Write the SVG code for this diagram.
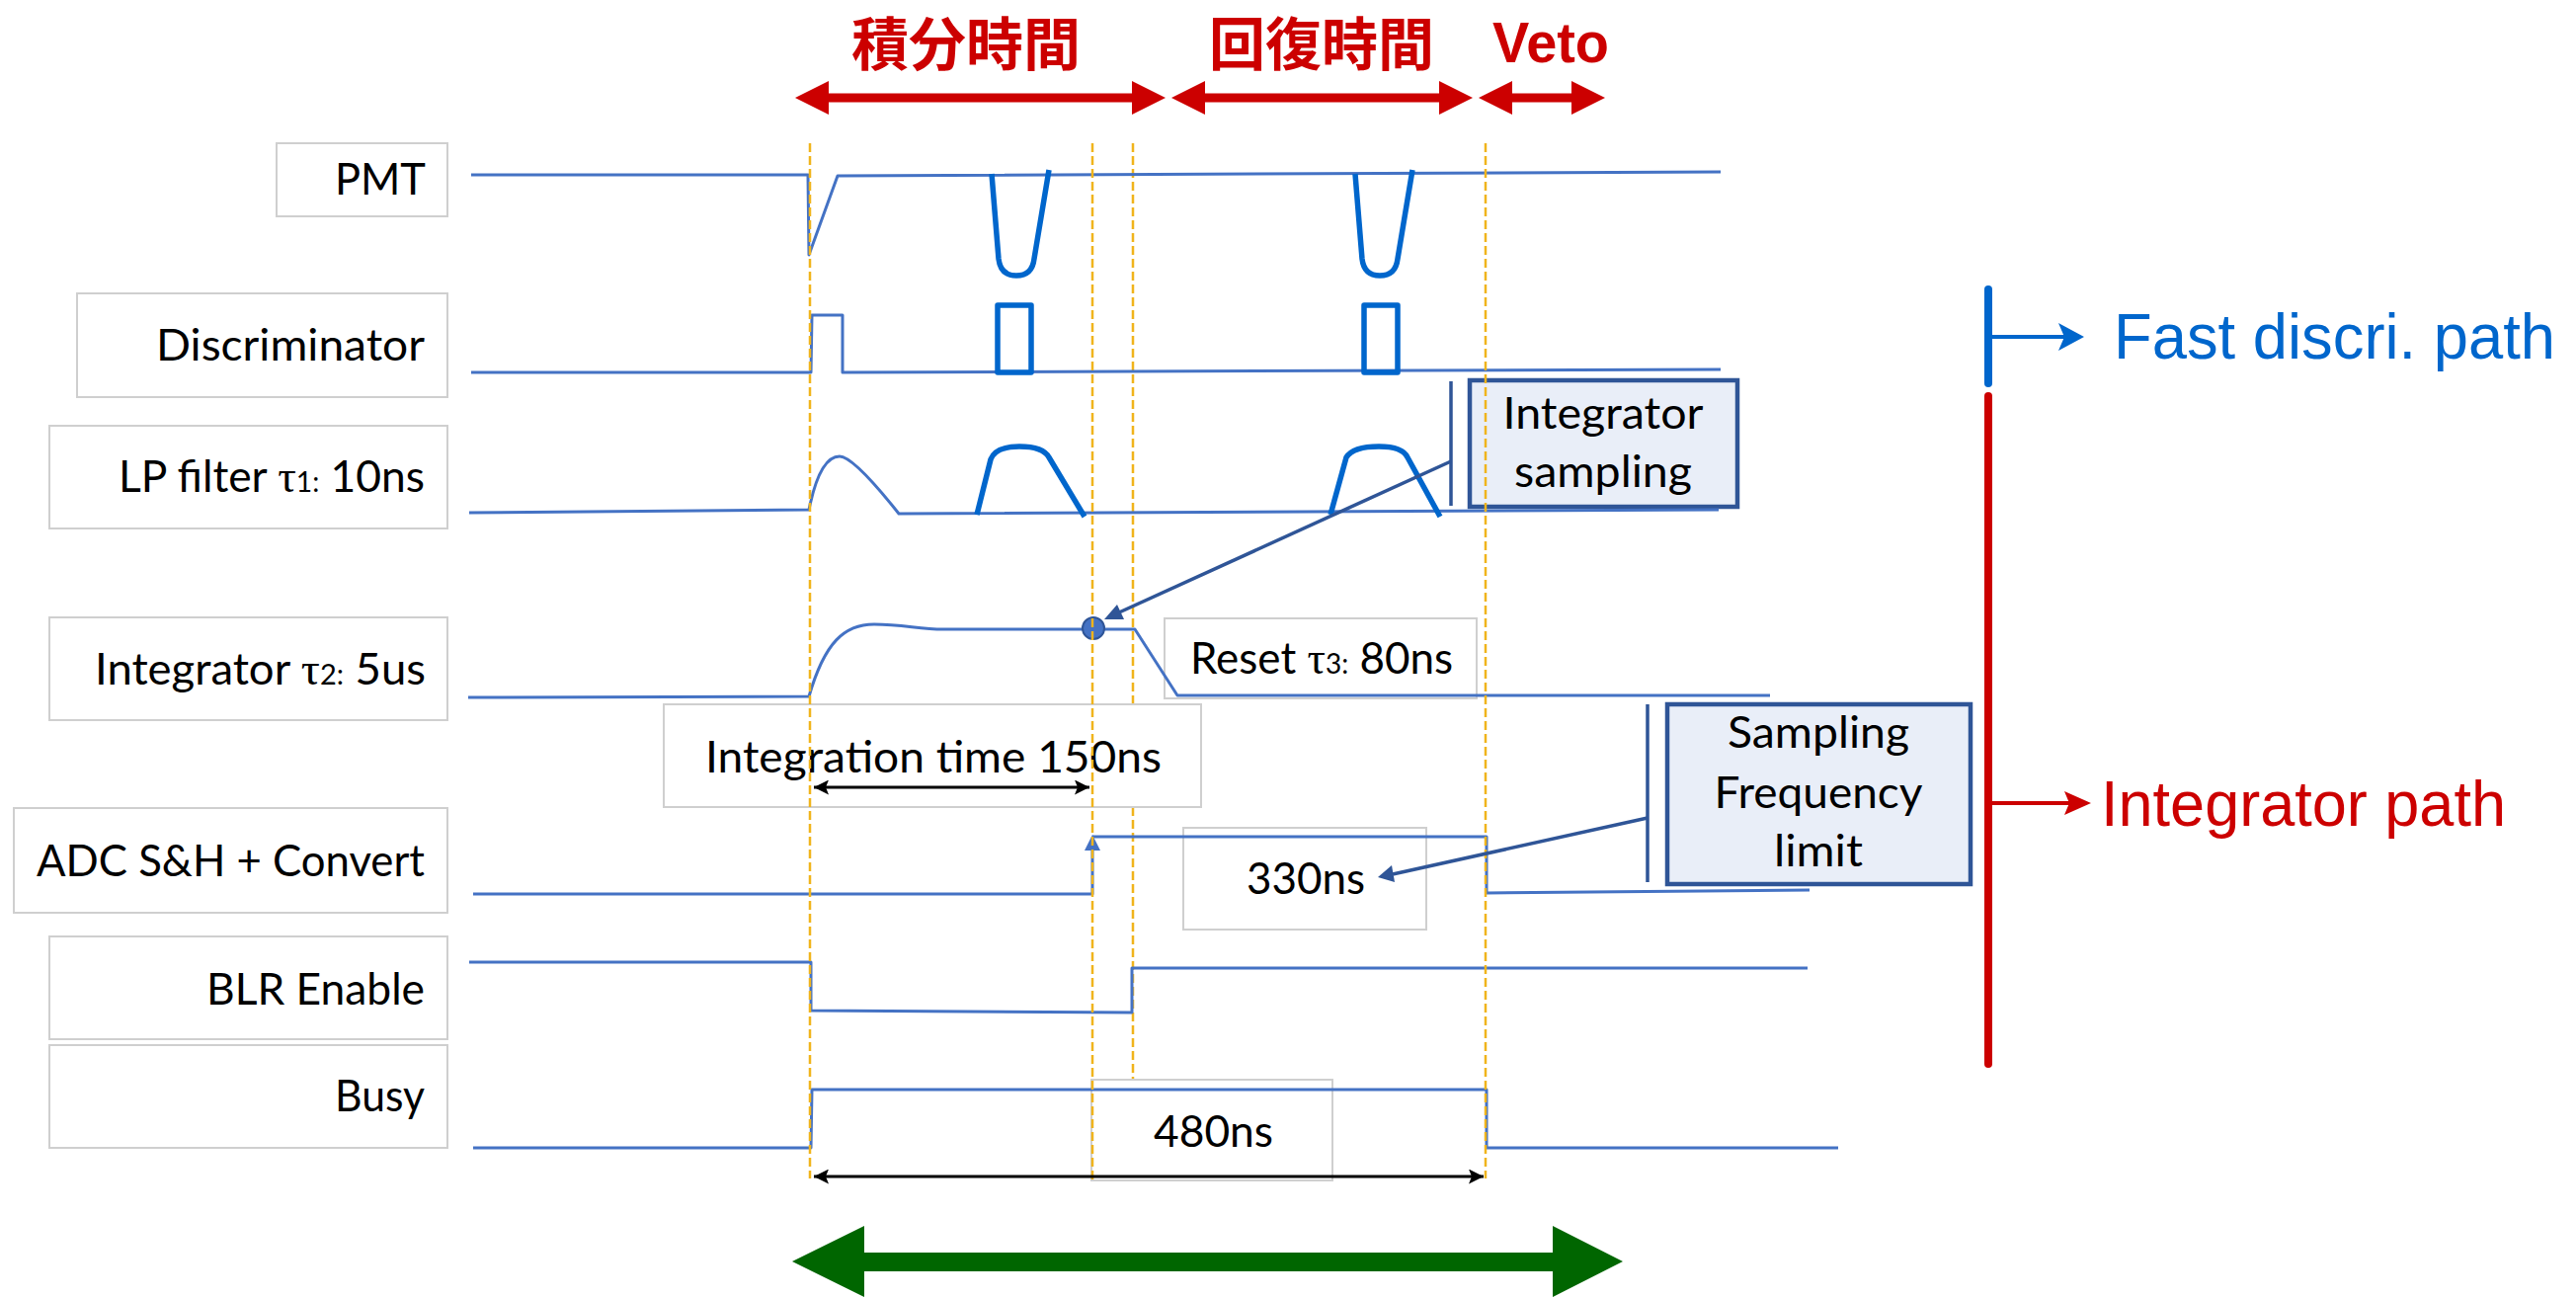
<svg xmlns="http://www.w3.org/2000/svg" width="2608" height="1314" viewBox="0 0 2608 1314">
<style>
.lbl{fill:#fff;stroke:#cfcfcf;stroke-width:2}
.note{fill:#E9EEF8;stroke:#2F5597;stroke-width:4.5}
.t{font-family:Lato,"Open Sans","DejaVu Sans",sans-serif;font-size:44px;fill:#000}
.tau{font-family:"Liberation Serif","DejaVu Serif",serif;font-size:46px}
.sub{font-size:28px}
.sig{fill:none;stroke:#4472C4;stroke-width:3;stroke-linejoin:round}
.pulse{fill:none;stroke:#0066CC;stroke-width:5.5;stroke-linejoin:round}
.dash{stroke:#F0B41C;stroke-width:2.5;stroke-dasharray:9 4;fill:none}
.lead{stroke:#2F5597;stroke-width:3.5;fill:none}
.cjk{font-family:"Noto Sans CJK JP","Noto Sans CJK SC",sans-serif;font-weight:bold;font-size:58px;fill:#CC0000}
.arial{font-family:"Liberation Sans",Arial,sans-serif;font-size:64px}
.dim{stroke:#000;stroke-width:3;fill:none}
</style>
<defs>
<marker id="ah" viewBox="0 0 10 10" refX="10" refY="5" markerWidth="5" markerHeight="5" orient="auto-start-reverse" markerUnits="strokeWidth">
<path d="M0,0 L10,5 L0,10 L2,5 Z" fill="#000"/>
</marker>
</defs>
<rect width="2608" height="1314" fill="#fff"/>

<g id="phase-labels">
<text class="cjk" x="978" y="66" text-anchor="middle" textLength="232" lengthAdjust="spacingAndGlyphs">積分時間</text>
<text class="cjk" x="1338" y="66" text-anchor="middle" textLength="228" lengthAdjust="spacingAndGlyphs">回復時間</text>
<text x="1511" y="63" font-family="Liberation Sans,Arial,sans-serif" font-weight="bold" font-size="57" fill="#CC0000" textLength="118" lengthAdjust="spacingAndGlyphs">Veto</text>
<polygon fill="#CC0000" points="805,99 839,82 839,94.5 1146,94.5 1146,82 1180,99 1146,116 1146,103.5 839,103.5 839,116"/>
<polygon fill="#CC0000" points="1186,99 1220,82 1220,94.5 1457,94.5 1457,82 1491,99 1457,116 1457,103.5 1220,103.5 1220,116"/>
<polygon fill="#CC0000" points="1497,99 1531,82 1531,94.5 1591,94.5 1591,82 1625,99 1591,116 1591,103.5 1531,103.5 1531,116"/>
</g>

<g id="dashed-1147">
<line class="dash" x1="1147" y1="145" x2="1147" y2="713"/>
<line class="dash" x1="1147" y1="817" x2="1147" y2="1092"/>
</g>

<g id="node-pmt"><rect class="lbl" x="280" y="145" width="173" height="74"/>
<text class="t" x="431" y="197" text-anchor="end" textLength="92" lengthAdjust="spacingAndGlyphs">PMT</text></g>
<g id="node-disc"><rect class="lbl" x="78" y="297" width="375" height="105"/>
<text class="t" x="430" y="365" text-anchor="end" textLength="272" lengthAdjust="spacingAndGlyphs">Discriminator</text></g>
<g id="node-lp"><rect class="lbl" x="50" y="431" width="403" height="104"/>
<text class="t" x="430" y="498" text-anchor="end" textLength="310" lengthAdjust="spacingAndGlyphs">LP filter <tspan class="tau">τ</tspan><tspan class="sub">1:</tspan> 10ns</text></g>
<g id="node-int"><rect class="lbl" x="50" y="625" width="403" height="104"/>
<text class="t" x="431" y="693" text-anchor="end" textLength="335" lengthAdjust="spacingAndGlyphs">Integrator <tspan class="tau">τ</tspan><tspan class="sub">2:</tspan> 5us</text></g>
<g id="node-adc"><rect class="lbl" x="14" y="818" width="439" height="106"/>
<text class="t" x="430" y="887" text-anchor="end" textLength="393" lengthAdjust="spacingAndGlyphs">ADC S&amp;H + Convert</text></g>
<g id="node-blr"><rect class="lbl" x="50" y="948" width="403" height="104"/>
<text class="t" x="430" y="1017" text-anchor="end" textLength="221" lengthAdjust="spacingAndGlyphs">BLR Enable</text></g>
<g id="node-busy"><rect class="lbl" x="50" y="1058" width="403" height="104"/>
<text class="t" x="430" y="1125" text-anchor="end" textLength="91" lengthAdjust="spacingAndGlyphs">Busy</text></g>

<g id="node-inttime"><rect class="lbl" x="672" y="713" width="544" height="104"/>
<text class="t" x="714" y="782" textLength="462" lengthAdjust="spacingAndGlyphs">Integration time 150ns</text></g>
<g id="node-reset"><rect class="lbl" x="1179" y="626" width="316" height="81"/>
<text class="t" x="1205" y="682" textLength="266" lengthAdjust="spacingAndGlyphs">Reset <tspan class="tau">τ</tspan><tspan class="sub">3:</tspan> 80ns</text></g>
<g id="node-330"><rect class="lbl" x="1198" y="838" width="246" height="103"/>
<text class="t" x="1262" y="905" textLength="120" lengthAdjust="spacingAndGlyphs">330ns</text></g>
<g id="node-480"><rect class="lbl" x="1105" y="1093" width="244" height="102"/>
<text class="t" x="1168" y="1161" textLength="121" lengthAdjust="spacingAndGlyphs">480ns</text></g>

<g id="node-intsampling"><rect class="note" x="1488" y="385" width="271" height="128"/>
<text class="t" x="1623" y="434" text-anchor="middle" textLength="203" lengthAdjust="spacingAndGlyphs">Integrator</text>
<text class="t" x="1623" y="493" text-anchor="middle" textLength="180" lengthAdjust="spacingAndGlyphs">sampling</text></g>
<g id="node-sflimit"><rect class="note" x="1688" y="713" width="307" height="182"/>
<text class="t" x="1841" y="757" text-anchor="middle" textLength="184" lengthAdjust="spacingAndGlyphs">Sampling</text>
<text class="t" x="1841" y="818" text-anchor="middle" textLength="211" lengthAdjust="spacingAndGlyphs">Frequency</text>
<text class="t" x="1841" y="877" text-anchor="middle" textLength="90" lengthAdjust="spacingAndGlyphs">limit</text></g>

<g id="signals">
<path class="sig" d="M477,177 L818,177 L819,258 L848,178 L1742,174"/>
<path class="pulse" d="M1004,176 L1011,262 Q1013,279 1029,279 Q1045,279 1047,262 L1062,172"/>
<path class="pulse" d="M1372,176 L1379,262 Q1381,279 1397,279 Q1413,279 1415,262 L1430,172"/>
<path class="sig" d="M477,377 L821,377 L822,319 L853,319 L853,377 L1742,374"/>
<rect class="pulse" x="1010" y="309" width="34" height="68"/>
<rect class="pulse" x="1381" y="309" width="34" height="68"/>
<path class="sig" d="M475,519 L819,516 Q830,462 850,462 Q864,462 910,520 L1740,516"/>
<path class="pulse" d="M989,521 L1003,465 Q1008,452 1032,452 Q1056,452 1062,463 L1098,523"/>
<path class="pulse" d="M1347,521 L1363,463 Q1370,452 1396,452 Q1420,452 1425,463 L1458,523"/>
<path class="sig" d="M474,706 L819,705 C835,650 855,632 885,632 C915,632 930,637 955,637 L1149,637 L1192,704 L1792,704"/>
<circle cx="1107" cy="636" r="11" fill="#4472C4" stroke="#2F5597" stroke-width="2"/>
<path class="sig" d="M479,905 L1106,905 L1106,856 M1106,847 L1505,847 L1505,904 L1832,901"/>
<polygon fill="#4472C4" points="1106,845 1114,861 1098,861"/>
<path class="sig" d="M475,974 L821,974 L821,1023 L1146,1025 L1146,980 L1830,980"/>
<path class="sig" d="M479,1162 L821,1162 L822,1103 L1505,1103 L1505,1162 L1861,1162"/>
</g>

<g id="dashed">
<line class="dash" x1="820" y1="145" x2="820" y2="1193"/>
<line class="dash" x1="1106" y1="145" x2="1106" y2="1195"/>
<line class="dash" x1="1504" y1="145" x2="1504" y2="1193"/>
</g>

<g id="connectors">
<line class="dim" x1="824" y1="797" x2="1103" y2="797" marker-start="url(#ah)" marker-end="url(#ah)"/>
<line class="dim" x1="824" y1="1191" x2="1502" y2="1191" marker-start="url(#ah)" marker-end="url(#ah)"/>
<line class="lead" x1="1469" y1="386" x2="1469" y2="512"/>
<line class="lead" x1="1469" y1="467" x2="1133" y2="620"/>
<polygon fill="#2F5597" points="1118,627 1131,612 1138,627"/>
<line class="lead" x1="1668" y1="713" x2="1668" y2="893"/>
<line class="lead" x1="1668" y1="828" x2="1410" y2="885"/>
<polygon fill="#2F5597" points="1395,888 1409,876 1412,893"/>
<polygon fill="#006600" points="802,1277 875,1241 875,1268 1572,1268 1572,1241 1643,1277 1572,1313 1572,1287 875,1287 875,1313"/>
</g>

<g id="paths-legend">
<line x1="2013" y1="293" x2="2013" y2="388" stroke="#0066CC" stroke-width="8" stroke-linecap="round"/>
<line x1="2013" y1="341" x2="2090" y2="341" stroke="#0066CC" stroke-width="4"/>
<polygon fill="#0066CC" points="2084,327 2110,341 2084,355 2090,341"/>
<text class="arial" x="2140" y="363" fill="#0066CC" textLength="447" lengthAdjust="spacingAndGlyphs">Fast discri. path</text>
<line x1="2013" y1="401" x2="2013" y2="1077" stroke="#CC0000" stroke-width="8" stroke-linecap="round"/>
<line x1="2013" y1="813" x2="2095" y2="813" stroke="#CC0000" stroke-width="4"/>
<polygon fill="#CC0000" points="2090,801 2117,813 2090,825 2095,813"/>
<text class="arial" x="2127" y="836" fill="#CC0000" textLength="410" lengthAdjust="spacingAndGlyphs">Integrator path</text>
</g>
</svg>
